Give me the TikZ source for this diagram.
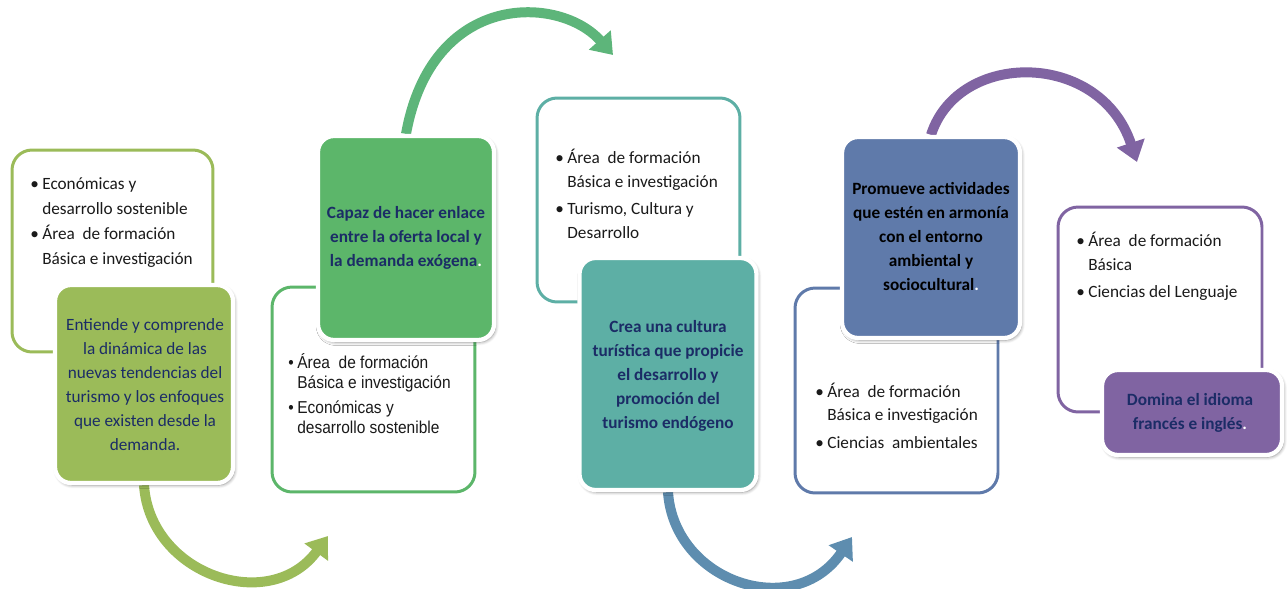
\documentclass[tikz,border=0pt]{standalone}
\usepackage{fontspec}
\setmainfont{Carlito}
\newfontfamily\arialn[FakeStretch=0.9]{Liberation Sans}
\usetikzlibrary{arrows.meta,shadows.blur}
\definecolor{cOlive}{HTML}{9BBB59}
\definecolor{cGreen}{HTML}{5CB66A}
\definecolor{cGreenA}{HTML}{5DB57A}
\definecolor{cTeal}{HTML}{5DAFA5}
\definecolor{cSteel}{HTML}{5E8DAF}
\definecolor{cBlue}{HTML}{5F7AAA}
\definecolor{cPurple}{HTML}{8064A2}
\definecolor{txtnavy}{HTML}{1B2C66}
\definecolor{listc}{HTML}{1A1A1A}
\pgfdeclarelayer{bg}
\pgfsetlayers{bg,main}
\newcommand\bu[1]{\makebox[#1][l]{\textbullet}}
\newcommand\ii[1]{\hspace*{#1}}
\tikzset{
  outl/.style={draw=#1, line width=1.7pt, rounded corners=0.4cm, fill=white, inner sep=0pt},
  filledbox/.style={fill=#1, draw=white, line width=2.4pt, rounded corners=0.32cm, inner sep=0pt,
    blur shadow={shadow xshift=0.9pt, shadow yshift=-1.2pt, shadow blur steps=6, shadow opacity=45}},
  lst/.style={anchor=north west, align=left, inner sep=0pt, font=\fontsize{9.8}{14.2}\selectfont, text=listc},
  ctr/.style={anchor=north, align=center, inner sep=0pt, font=\fontsize{9.8}{13.7}\selectfont\bfseries, text=txtnavy},
  bigarrow/.style={draw=#1, line width=0.2cm, line cap=butt, -{Triangle[width=0.56cm,length=0.4cm]}},
}
\begin{document}
\begin{tikzpicture}[x=0.02cm,y=-0.02cm]
\useasboundingbox (0,0) rectangle (1287,588);

% outline boxes
\node[outl=cOlive, minimum width=4.02cm, minimum height=4.04cm] (o1) at (112.5,251) {};
\node[outl=cGreen, minimum width=4.06cm, minimum height=4.10cm] (o2) at (373.5,389.5) {};
\node[outl=cTeal, minimum width=4.06cm, minimum height=4.08cm] (o3) at (638.5,200) {};
\node[outl=cBlue, minimum width=4.06cm, minimum height=4.10cm] (o4) at (896.5,390.5) {};
\node[outl=cPurple, minimum width=4.08cm, minimum height=4.10cm] (o5) at (1160,309.5) {};

% filled boxes
\node[filledbox=cOlive, minimum width=3.56cm, minimum height=3.96cm] (f1) at (144,384) {};
\node[filledbox=cGreen, minimum width=3.52cm, minimum height=4.08cm] (f2) at (406,238) {};
\node[filledbox=cTeal, minimum width=3.54cm, minimum height=4.64cm] (f3) at (668,374) {};
\node[filledbox=cBlue, minimum width=3.56cm, minimum height=4.02cm] (f4) at (931,237.5) {};
\node[filledbox=cPurple, minimum width=3.60cm, minimum height=1.70cm] (f5) at (1192,412.5) {};

% list texts
\node[lst] (t1) at (30,171.5) {\strut\bu{0.24cm}Económicas y\\ \ii{0.24cm}desarrollo sostenible\\ \bu{0.24cm}Área\ \ de formación\\ \ii{0.24cm}Básica e investigación};
\node[lst, font=\arialn\fontsize{9.8}{11.4}\selectfont] (t2) at (288,353) {\strut\bu{0.18cm}Área\ \ de formación\\ \ii{0.18cm}Básica e investigación\\[0.1cm] \bu{0.18cm}Económicas y\\ \ii{0.18cm}desarrollo sostenible};
\node[lst, font=\fontsize{9.8}{13.7}\selectfont] (t3) at (555,146) {\strut\bu{0.24cm}Área\ \ de formación\\ \ii{0.24cm}Básica e investigación\\[0.06cm] \bu{0.24cm}Turismo, Cultura y\\ \ii{0.24cm}Desarrollo};
\node[lst, font=\fontsize{9.8}{13.2}\selectfont] (t4) at (815,381) {\strut\bu{0.24cm}Área\ \ de formación\\ \ii{0.24cm}Básica e investigación\\[0.1cm] \bu{0.24cm}Ciencias\ \ ambientales};
\node[lst, font=\fontsize{9.8}{13.7}\selectfont] (t5) at (1076,229) {\strut\bu{0.24cm}Área\ \ de formación\\ \ii{0.24cm}Básica\\[0.06cm] \bu{0.24cm}Ciencias del Lenguaje};

% centred texts
\node[ctr, font=\fontsize{9.8}{13.7}\selectfont] (c1) at (145,313) {\strut Entiende y comprende\\la dinámica de las\\nuevas tendencias del\\turismo y los enfoques\\que existen desde la\\demanda.};
\node[ctr] (c2) at (406,201) {\strut Capaz de hacer enlace\\entre la oferta local y\\la demanda exógena{\color{white}.}};
\node[ctr] (c3) at (668,315) {\strut Crea una cultura\\turística que propicie\\el desarrollo y\\promoción del\\turismo endógeno};
\node[ctr, text=black] (c4) at (931,177) {\strut Promueve actividades\\que estén en armonía\\con el entorno\\ambiental y\\sociocultural{\color{white}.}};
\node[ctr] (c5) at (1190,388) {\strut Domina el idioma\\francés e inglés{\color{white}.}};

% arrow end points
\coordinate (a1) at (328,536);
\coordinate (a2) at (613,55);
\coordinate (a3) at (852,537);
\coordinate (a4) at (1137,162);

\begin{pgfonlayer}{bg}
\draw[bigarrow=cOlive] (f1.south) .. controls (150,575) and (270,615) .. (a1);
\draw[bigarrow=cGreenA] (f2.north) .. controls (432,-10) and (560,-5) .. (a2);
\draw[bigarrow=cSteel] (f3.south) .. controls (674,582) and (794,622) .. (a3);
\draw[bigarrow=cPurple] (f4.north) .. controls (958,50) and (1100,50) .. (a4);
\end{pgfonlayer}
\end{tikzpicture}
\end{document}
